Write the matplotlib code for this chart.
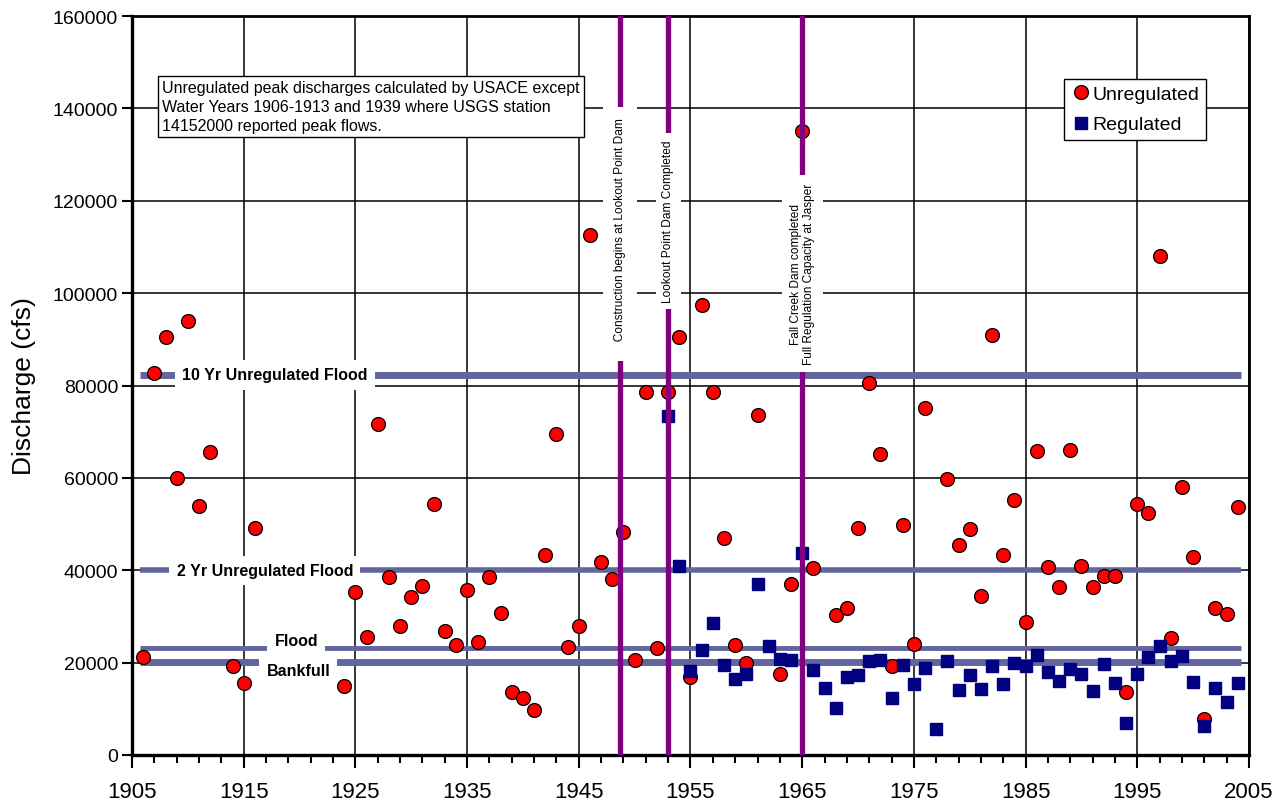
import numpy as np
import matplotlib
matplotlib.use("Agg")
import matplotlib.pyplot as plt
from matplotlib import font_manager

plt.rcParams['font.family'] = ['Liberation Sans', 'DejaVu Sans']

# peak discharges (cfs)
unreg_years = [1906, 1907, 1908, 1909, 1910, 1911, 1912, 1914, 1915, 1916,
               1924, 1925, 1926, 1927, 1928, 1929, 1930, 1931, 1932, 1933,
               1934, 1935, 1936, 1937, 1938, 1939, 1940, 1941, 1942, 1943,
               1944, 1945, 1946, 1947, 1948, 1949, 1950, 1951, 1952, 1953,
               1954, 1955, 1956, 1957, 1958, 1959, 1960, 1961, 1963, 1964,
               1965, 1966, 1968, 1969, 1970, 1971, 1972, 1973, 1974, 1975,
               1976, 1978, 1979, 1980, 1981, 1982, 1983, 1984, 1985, 1986,
               1987, 1988, 1989, 1990, 1991, 1992, 1993, 1994, 1995, 1996,
               1997, 1998, 1999, 2000, 2001, 2002, 2003, 2004]
unreg_q = [21200, 82700, 90500, 60000, 94000, 54000, 65600, 19300, 15600, 49100,
           15000, 35300, 25500, 71700, 38500, 27900, 34200, 36500, 54300, 26800,
           23800, 35700, 24500, 38500, 30700, 13600, 12300, 9700, 43300, 69400,
           23400, 27900, 112600, 41700, 38100, 48300, 20600, 78600, 23100, 78600,
           90500, 16800, 97400, 78600, 47000, 23800, 20000, 73600, 17500, 37000,
           135000, 40500, 30300, 31800, 49100, 80500, 65200, 19300, 49800, 24000,
           75100, 59800, 45500, 49000, 34500, 91000, 43200, 55200, 28800, 65800,
           40700, 36400, 66000, 40900, 36400, 38800, 38800, 13600, 54400, 52400,
           108000, 25300, 58000, 42900, 7800, 31800, 30500, 53700]

reg_years = list(range(1953, 2005))
reg_q = [73400, 40900, 18200, 22700, 28600, 19500, 16500, 17500, 37000, 23600,
         20800, 20600, 43700, 18400, 14500, 10200, 16900, 17300, 20300, 20600,
         12300, 19500, 15400, 18800, 5600, 20300, 14100, 17300, 14300, 19300,
         15400, 19900, 19300, 21600, 18000, 16000, 18600, 17500, 13900, 19700,
         15600, 6900, 17500, 21200, 23600, 20300, 21400, 15800, 6300, 14500,
         11500, 15600]

# reference flood levels (cfs)
ref_names = ['10 Yr Unregulated Flood', '2 Yr Unregulated Flood', 'Flood', 'Bankfull']
ref_q = [82300, 40000, 23200, 20100]

# dam history events
event_years = [1948.7, 1953.0, 1965.0]
event_labels = ['Construction begins at Lookout Point Dam',
                'Lookout Point Dam Completed',
                'Fall Creek Dam completed\nFull Regulation Capacity at Jasper']

note = ('Unregulated peak discharges calculated by USACE except\n'
        'Water Years 1906-1913 and 1939 where USGS station\n'
        '14152000 reported peak flows.')

names = {f.name for f in font_manager.fontManager.ttflist}
narrow = 'Liberation Sans Narrow' if 'Liberation Sans Narrow' in names else 'Liberation Sans'

fig = plt.figure(figsize=(12.8, 8.04), dpi=100)
ax = fig.add_axes([132 / 1280, 48 / 804, 1117 / 1280, 739 / 804])

ax.set_xlim(1905, 2005)
ax.set_ylim(0, 160000)
ax.set_xticks(np.arange(1905, 2006, 10))
ax.set_xticks(np.arange(1905, 2006, 2), minor=True)
ax.set_yticks(np.arange(0, 160001, 20000))
ax.grid(True, which='major', color='black', linewidth=1.1, zorder=0)
ax.set_axisbelow(True)

ax.tick_params(axis='x', which='major', direction='out', length=9, width=1.5,
               labelsize=16, pad=10)
ax.tick_params(axis='x', which='minor', direction='out', length=6, width=1.5)
ax.tick_params(axis='y', which='major', direction='out', length=7, width=1.5,
               labelsize=14, pad=3)
for side in ['left', 'bottom']:
    ax.spines[side].set_linewidth(2.4)
for side in ['top', 'right']:
    ax.spines[side].set_linewidth(2.0)

ax.set_ylabel('Discharge (cfs)', fontsize=19, labelpad=12)

# horizontal reference lines
line_col = '#63669E'
widths = [5, 4, 3.5, 5]
for q, w in zip(ref_q, widths):
    ax.plot([1905.7, 2004.3], [q, q], color=line_col, linewidth=w,
            solid_capstyle='butt', zorder=2)

lab_x = [1917.8, 1916.9, 1919.7, 1919.9]
lab_dy = [0, 0, 5, -6]
for name, q, x, dy in zip(ref_names, ref_q, lab_x, lab_dy):
    ax.annotate(name, (x, q), xytext=(0, dy), textcoords='offset points',
                ha='center', va='center', fontsize=11.5, fontweight='bold',
                zorder=3,
                bbox=dict(boxstyle='square,pad=0.45', facecolor='white',
                          edgecolor='none'))

# data points
ax.plot(unreg_years, unreg_q, 'o', color='red', markeredgecolor='black',
        markeredgewidth=0.9, markersize=10, zorder=4, label='Unregulated')
ax.plot(reg_years, reg_q, 's', color='#000080', markeredgecolor='#000080',
        markersize=8, zorder=5, label='Regulated')

# event lines
for yr in event_years:
    ax.axvline(yr, color='#800080', linewidth=3.8, zorder=6)

ev_y = [112800, 115600, 104300]
ev_pad = [0.9, 0.55, 0.65]
ev_text = ['   ' + event_labels[0], event_labels[1], event_labels[2]]
for yr, y, txt, p in zip(event_years, ev_y, ev_text, ev_pad):
    ax.text(yr, y, txt, rotation=90, ha='center', va='center', fontsize=8.6,
            family=[narrow, 'DejaVu Sans'], linespacing=1.15, zorder=7,
            bbox=dict(boxstyle='square,pad=%.2f' % p, facecolor='white',
                      edgecolor='none'))

# note box
ax.text(0.027, 0.913, note, transform=ax.transAxes, ha='left', va='top',
        fontsize=11.5, linespacing=1.32, zorder=8,
        bbox=dict(boxstyle='square,pad=0.25', facecolor='white',
                  edgecolor='black', linewidth=1))

leg = ax.legend(loc='upper right', bbox_to_anchor=(0.9615, 0.915),
                fontsize=14, frameon=True, fancybox=False, framealpha=1,
                edgecolor='black', handletextpad=0.1, borderpad=0.35,
                labelspacing=0.65, handlelength=1.0, borderaxespad=0)
leg.get_frame().set_linewidth(1.0)
leg.set_zorder(9)

fig.savefig('out.png', dpi=100)
